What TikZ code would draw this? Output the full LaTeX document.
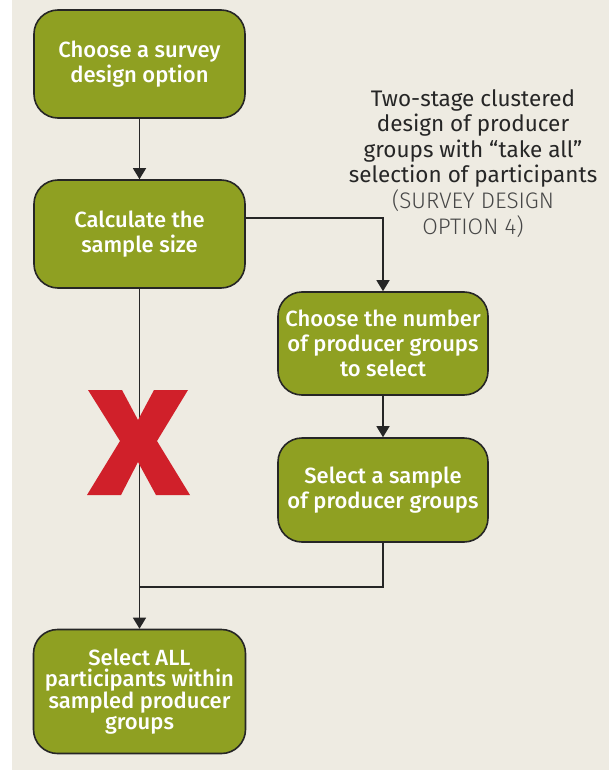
\documentclass[tikz,border=0pt]{standalone}
\usepackage{fontspec}
\setmainfont{Fira Sans}
\newfontfamily\boxfont{Fira Sans Medium}
\newfontfamily\lightfont{Fira Sans Light}
\usetikzlibrary{arrows.meta}
\definecolor{paper}{HTML}{EEEBE2}
\definecolor{leaf}{HTML}{8FA022}
\definecolor{ink}{HTML}{262626}
\definecolor{stop}{HTML}{D0202A}
\tikzset{
  stepbox/.style={draw=ink, line width=1.6pt, fill=leaf, rounded corners=24pt,
    minimum width=211pt, text=white, align=center, inner sep=0pt,
    font=\boxfont\fontsize{22}{25}\selectfont},
  flow/.style={draw=ink, line width=1.4pt},
  flowarrow/.style={flow, -{Triangle[width=13pt,length=11pt]}},
}
\begin{document}
\begin{tikzpicture}[x=1pt, y=-1pt]
  % page
  \fill[paper] (0,0) rectangle (609,770);
  \fill[white] (0,0) rectangle (12,770);
  \useasboundingbox (0,0) rectangle (609,770);

  % steps
  \node[stepbox, minimum height=108pt] (choose) at (139.5,64) {Choose a survey\\design option};
  \node[stepbox, minimum height=108pt] (size) at (139.5,234) {Calculate the\\sample size};
  \node[stepbox, minimum width=210pt, minimum height=103pt] (number) at (383,343.5) {Choose the number\\of producer groups\\to select};
  \node[stepbox, minimum width=210pt, minimum height=104pt] (sample) at (383,490) {Select a sample\\of producer groups};
  \node[stepbox, minimum width=212pt, minimum height=124pt,
        font=\boxfont\fontsize{22}{21}\selectfont] (all) at (139.5,691.5)
    {Select ALL\\participants within\\sampled producer\\groups};

  % side note
  \node[align=center, text=ink, inner sep=0pt, font=\fontsize{22.5}{25.6}\selectfont, anchor=north] (note) at (473,89)
    {Two-stage clustered\\design of producer\\groups with “take all”\\selection of participants\\
     {\lightfont\color{ink!85}(SURVEY DESIGN}\\{\lightfont\color{ink!85}OPTION 4)}};

  % connectors
  \coordinate (join) at (139.5,587);
  \draw[flowarrow] (choose) -- (size);
  \draw[flowarrow] ([yshift=16pt]size.east) -| (number.north);
  \draw[flowarrow] (number) -- (sample);
  \draw[flow] (sample.south) |- (join);
  \draw[flowarrow] (size) -- (all);

  % cross over the skipped branch
  \fill[stop] (88,390) -- (122,390) -- (138,420) -- (154,390) -- (188,390)
    -- (157,441) -- (190,495) -- (156,495) -- (138,462) -- (121,495)
    -- (87,495) -- (120,441) -- cycle;
\end{tikzpicture}
\end{document}
